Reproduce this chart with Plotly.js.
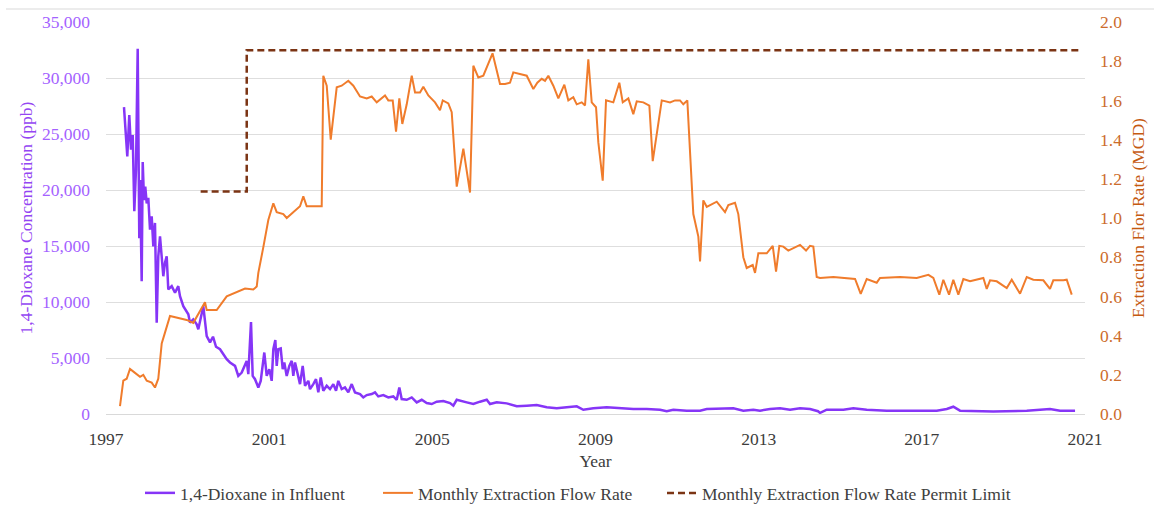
<!DOCTYPE html>
<html>
<head>
<meta charset="utf-8">
<script src="https://cdn.plot.ly/plotly-3.0.1.min.js"></script>
<style>html,body{margin:0;padding:0;background:#fff;}#chart{width:1154px;height:506px;}</style>
</head>
<body>
<div id="chart"></div>
<script>
// ---- Data ----
const yearTicks = [1997, 2001, 2005, 2009, 2013, 2017, 2021];
const yearTickText = ['1997', '2001', '2005', '2009', '2013', '2017', '2021'];

// 1,4-Dioxane in Influent (ppb)
const dioxaneYears = [
  1997.441,1997.522,1997.571,1997.613,1997.655,1997.694,1997.735,1997.777,1997.816,1997.834,
  1997.875,1997.900,1997.932,1997.963,1997.998,1998.037,1998.079,1998.120,1998.160,1998.201,
  1998.243,1998.282,1998.324,1998.366,1998.405,1998.446,1998.488,1998.527,1998.611,1998.692,
  1998.772,1998.814,1998.895,1999.018,1999.059,1999.140,1999.224,1999.263,1999.385,1999.469,
  1999.550,1999.623,1999.697,1999.795,1999.868,1999.959,2000.040,2000.163,2000.243,2000.327,
  2000.449,2000.489,2000.555,2000.596,2000.653,2000.734,2000.793,2000.881,2000.940,2001.004,
  2001.062,2001.102,2001.151,2001.185,2001.224,2001.283,2001.332,2001.371,2001.430,2001.494,
  2001.553,2001.592,2001.634,2001.756,2001.822,2001.879,2001.960,2002.001,2002.082,2002.148,
  2002.205,2002.264,2002.327,2002.411,2002.492,2002.573,2002.639,2002.695,2002.778,2002.859,
  2002.940,2003.024,2003.104,2003.227,2003.308,2003.391,2003.514,2003.595,2003.676,2003.798,
  2003.921,2004.043,2004.127,2004.191,2004.249,2004.372,2004.495,2004.617,2004.740,2004.862,
  2004.985,2005.107,2005.269,2005.434,2005.515,2005.598,2005.843,2006.005,2006.169,2006.333,
  2006.414,2006.578,2006.823,2007.069,2007.314,2007.559,2007.804,2008.049,2008.295,2008.540,
  2008.702,2008.947,2009.275,2009.601,2009.927,2010.256,2010.582,2010.746,2010.908,2011.236,
  2011.563,2011.727,2012.053,2012.379,2012.624,2012.869,2013.033,2013.279,2013.524,2013.769,
  2014.014,2014.259,2014.455,2014.504,2014.669,2015.076,2015.321,2015.649,2016.140,2016.711,
  2017.365,2017.611,2017.772,2017.937,2018.753,2019.572,2020.142,2020.389,2020.756
];
const dioxanePpb = [
  27400,23000,26700,23600,24900,18100,21800,32600,15700,20900,
  11860,22500,19100,20300,18800,19300,16460,17640,14970,17060,
  8160,14080,15860,13500,12300,13500,14080,11120,11420,10830,
  11420,10520,9630,8900,8160,8450,8000,7560,9630,6960,
  6400,6900,6000,5780,5400,4890,4600,4300,3400,3700,
  4740,3560,8200,3400,3110,2370,2960,5490,3400,4000,
  2960,5780,6600,4300,5780,5850,4000,4600,3400,4300,
  4740,3400,4600,2670,4300,2520,2960,2220,2670,3110,
  1930,3260,2070,2520,2220,2670,2070,2960,2220,2370,
  1930,2670,1930,1780,1480,1690,1780,1930,1570,1690,
  1480,1570,1270,2370,1330,1270,1480,1040,1270,980,
  890,1100,1150,980,740,1270,1040,890,1100,1270,
  890,1040,950,690,740,800,600,510,600,690,
  380,510,600,510,445,445,380,250,380,300,
  300,445,445,510,300,380,300,445,510,380,
  510,445,250,100,380,380,510,380,300,300,
  300,445,650,300,220,300,445,300,300
];

// Monthly Extraction Flow Rate (MGD)
const flowYears = [
  1997.343,1997.424,1997.507,1997.588,1997.711,1997.834,1997.914,1997.998,1998.120,1998.201,
  1998.282,1998.366,1998.446,1998.569,1998.978,1999.140,1999.427,1999.469,1999.714,1999.959,
  2000.408,2000.611,2000.695,2000.734,2000.856,2000.979,2001.102,2001.185,2001.347,2001.430,
  2001.756,2001.837,2001.920,2002.288,2002.327,2002.411,2002.509,2002.573,2002.656,2002.778,
  2002.940,2003.063,2003.227,2003.391,2003.514,2003.637,2003.840,2003.921,2004.029,2004.110,
  2004.191,2004.264,2004.372,2004.495,2004.576,2004.698,2004.779,2004.902,2005.066,2005.188,
  2005.255,2005.392,2005.475,2005.598,2005.760,2005.924,2006.005,2006.127,2006.250,2006.476,
  2006.659,2006.782,2006.904,2006.985,2007.150,2007.314,2007.476,2007.574,2007.682,2007.763,
  2007.844,2007.966,2008.089,2008.236,2008.334,2008.456,2008.540,2008.662,2008.743,2008.824,
  2008.907,2009.013,2009.069,2009.177,2009.258,2009.437,2009.584,2009.668,2009.805,2009.927,
  2010.011,2010.173,2010.320,2010.403,2010.624,2010.827,2010.950,2011.072,2011.153,2011.251,
  2011.398,2011.521,2011.563,2011.643,2011.727,2011.972,2012.175,2012.256,2012.420,2012.501,
  2012.624,2012.707,2012.854,2012.911,2012.992,2013.198,2013.345,2013.426,2013.507,2013.605,
  2013.727,2014.014,2014.161,2014.259,2014.340,2014.423,2014.504,2014.830,2015.363,2015.502,
  2015.649,2015.894,2015.975,2016.466,2016.875,2017.160,2017.282,2017.429,2017.527,2017.667,
  2017.772,2017.895,2018.018,2018.182,2018.508,2018.591,2018.672,2018.836,2019.082,2019.204,
  2019.408,2019.572,2019.733,2019.979,2020.142,2020.223,2020.469,2020.552,2020.675
];
const flowMgd = [
  0.04,0.17,0.18,0.23,0.21,0.19,0.20,0.17,0.16,0.135,
  0.18,0.36,0.415,0.50,0.48,0.465,0.57,0.53,0.53,0.60,
  0.64,0.635,0.65,0.72,0.85,0.99,1.075,1.03,1.02,1.00,
  1.06,1.11,1.06,1.06,1.726,1.675,1.40,1.53,1.667,1.675,
  1.70,1.675,1.62,1.61,1.62,1.59,1.625,1.60,1.60,1.44,
  1.61,1.48,1.58,1.726,1.64,1.64,1.67,1.625,1.59,1.55,
  1.60,1.585,1.54,1.16,1.354,1.13,1.777,1.717,1.726,1.84,
  1.684,1.684,1.69,1.743,1.734,1.726,1.658,1.69,1.71,1.70,
  1.726,1.675,1.61,1.68,1.60,1.616,1.58,1.59,1.574,1.81,
  1.59,1.565,1.387,1.19,1.60,1.59,1.69,1.59,1.61,1.53,
  1.595,1.59,1.574,1.29,1.60,1.59,1.60,1.60,1.58,1.60,
  1.02,0.905,0.778,1.09,1.057,1.083,1.03,1.066,1.078,1.02,
  0.80,0.745,0.76,0.72,0.82,0.82,0.858,0.727,0.858,0.854,
  0.834,0.863,0.834,0.858,0.854,0.699,0.694,0.699,0.689,0.613,
  0.689,0.67,0.694,0.699,0.694,0.71,0.694,0.609,0.685,0.609,
  0.685,0.609,0.689,0.677,0.694,0.638,0.682,0.677,0.643,0.685,
  0.614,0.699,0.685,0.682,0.638,0.682,0.682,0.685,0.609
];

// Monthly Extraction Flow Rate Permit Limit (MGD)
const permitYears = [1999.32, 2000.45, 2020.92];
const permitMgd = [1.135, 1.856, 1.856];

const leftTicks = [0, 5000, 10000, 15000, 20000, 25000, 30000, 35000];
const rightTicks = [0, 0.2, 0.4, 0.6, 0.8, 1.0, 1.2, 1.4, 1.6, 1.8, 2.0];

// ---- Chart ----
const FONT = 'Liberation Serif';
const FS = 17.5;
const traces = [
  {
    x: dioxaneYears, y: dioxanePpb, type: 'scatter', mode: 'lines',
    name: '1,4-Dioxane in Influent', yaxis: 'y', legend: 'legend',
    line: {color: '#8635f7', width: 2.5}
  },
  {
    x: flowYears, y: flowMgd, type: 'scatter', mode: 'lines',
    name: 'Monthly Extraction Flow Rate', yaxis: 'y2', legend: 'legend2',
    line: {color: '#f07c2c', width: 2}
  },
  {
    x: permitYears, y: permitMgd, type: 'scatter', mode: 'lines',
    name: 'Monthly Extraction Flow Rate Permit Limit', yaxis: 'y2', legend: 'legend3',
    line: {color: '#7b3414', width: 2.5, dash: '7px,4px', shape: 'hv'}
  }
];

function legendAt(px) {
  return {
    orientation: 'h', xref: 'container', yref: 'container',
    x: px / 1154, xanchor: 'left', y: (506 - 493) / 506, yanchor: 'middle',
    font: {family: FONT, size: FS, color: '#404040'},
    itemwidth: 30, bgcolor: 'rgba(0,0,0,0)', borderwidth: 0
  };
}

const layout = {
  width: 1154, height: 506,
  margin: {l: 106, r: 69, t: 22, b: 92},
  paper_bgcolor: '#ffffff', plot_bgcolor: '#ffffff',
  font: {family: FONT, size: FS, color: '#404040'},
  showlegend: true,
  xaxis: {
    range: [1997, 2021], automargin: false,
    tickmode: 'array', tickvals: yearTicks, ticktext: yearTickText,
    showgrid: false, zeroline: false,
    showline: true, linecolor: '#d9d9d9', linewidth: 1,
    ticks: '', ticklabelstandoff: 9,
    tickfont: {family: FONT, size: FS, color: '#3c3c3c'},
    title: {text: 'Year', font: {family: FONT, size: FS, color: '#3c3c3c'}, standoff: 6}
  },
  yaxis: {
    range: [0, 35000], automargin: false,
    tickmode: 'array', tickvals: leftTicks, tickformat: ',d',
    showgrid: true, gridcolor: '#dedede', gridwidth: 1,
    zeroline: false, showline: false, ticks: '', ticklabelstandoff: 15,
    tickfont: {family: FONT, size: FS, color: '#a462ff'},
    title: {text: '1,4-Dioxane Concentration (ppb)', font: {family: FONT, size: FS, color: '#9446f2'}, standoff: 4}
  },
  yaxis2: {
    range: [0, 2], overlaying: 'y', side: 'right', automargin: false,
    tickmode: 'array', tickvals: rightTicks, tickformat: '.1f',
    showgrid: false, zeroline: false, showline: false, ticks: '', ticklabelstandoff: 14,
    tickfont: {family: FONT, size: FS, color: '#cc6c2c'},
    title: {text: 'Extraction Flor Rate (MGD)', font: {family: FONT, size: FS, color: '#c55a11'}, standoff: 10}
  },
  legend: legendAt(140),
  legend2: legendAt(378),
  legend3: legendAt(662),
  shapes: [
    {type: 'line', xref: 'paper', yref: 'paper',
     x0: -100/979, x1: 1048/979, y0: (414-9)/392, y1: (414-9)/392,
     line: {color: '#e6e6e6', width: 1.5}}
  ]
};

Plotly.newPlot('chart', traces, layout, {displayModeBar: false, staticPlot: true});
</script>
</body>
</html>
